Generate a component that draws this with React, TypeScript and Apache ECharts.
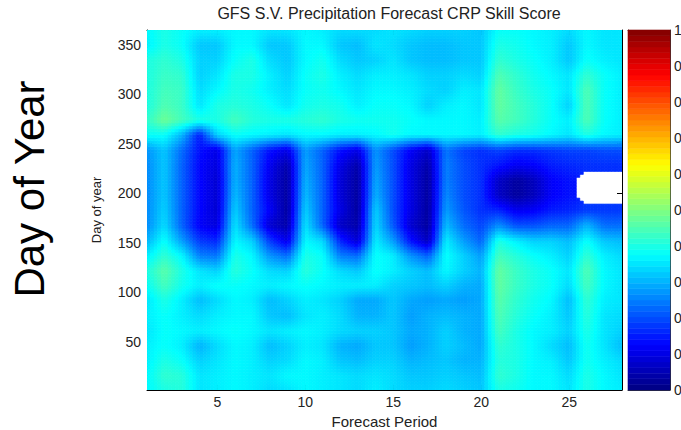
import React, { useEffect, useRef } from "react";
import * as echarts from "echarts";

const forecastPeriods = [1, 2, 3, 4, 5, 6, 7, 8, 9, 10, 11, 12, 13, 14, 15, 16, 17, 18, 19, 20, 21, 22, 23, 24, 25, 26, 27, 28];
const dayRows = [1, 16, 31, 46, 61, 76, 92, 107, 122, 137, 152, 168, 183, 198, 213, 228, 244, 259, 274, 289, 304, 320, 335, 350, 365];

// CRP skill score at grid nodes: one row per day in dayRows (bottom to top), one value per forecast period
const skillRows: (number | null)[][] = [
  [0.37, 0.40, 0.41, 0.35, 0.36, 0.37, 0.36, 0.34, 0.35, 0.37, 0.36, 0.35, 0.34, 0.36, 0.34, 0.33, 0.33, 0.34, 0.33, 0.32, 0.40, 0.39, 0.37, 0.37, 0.35, 0.40, 0.37, 0.36],
  [0.37, 0.42, 0.41, 0.35, 0.36, 0.37, 0.36, 0.35, 0.37, 0.37, 0.36, 0.35, 0.34, 0.35, 0.34, 0.32, 0.32, 0.33, 0.32, 0.31, 0.42, 0.40, 0.37, 0.37, 0.34, 0.40, 0.37, 0.35],
  [0.36, 0.40, 0.38, 0.33, 0.35, 0.37, 0.36, 0.33, 0.34, 0.37, 0.36, 0.32, 0.31, 0.33, 0.33, 0.30, 0.31, 0.32, 0.30, 0.30, 0.41, 0.40, 0.37, 0.36, 0.32, 0.39, 0.36, 0.34],
  [0.36, 0.38, 0.36, 0.30, 0.34, 0.37, 0.36, 0.31, 0.33, 0.36, 0.35, 0.30, 0.29, 0.32, 0.32, 0.28, 0.30, 0.33, 0.31, 0.29, 0.42, 0.40, 0.37, 0.34, 0.31, 0.39, 0.35, 0.31],
  [0.35, 0.38, 0.37, 0.36, 0.37, 0.38, 0.37, 0.35, 0.36, 0.37, 0.36, 0.34, 0.33, 0.33, 0.32, 0.29, 0.30, 0.33, 0.30, 0.29, 0.44, 0.40, 0.37, 0.36, 0.33, 0.40, 0.35, 0.33],
  [0.36, 0.38, 0.36, 0.34, 0.36, 0.37, 0.37, 0.32, 0.31, 0.35, 0.36, 0.34, 0.30, 0.30, 0.32, 0.28, 0.30, 0.31, 0.30, 0.29, 0.45, 0.41, 0.38, 0.36, 0.32, 0.41, 0.35, 0.34],
  [0.35, 0.40, 0.36, 0.31, 0.34, 0.37, 0.36, 0.31, 0.33, 0.36, 0.35, 0.33, 0.29, 0.29, 0.32, 0.29, 0.28, 0.29, 0.28, 0.29, 0.46, 0.42, 0.39, 0.37, 0.31, 0.42, 0.36, 0.35],
  [0.38, 0.44, 0.39, 0.36, 0.38, 0.38, 0.37, 0.36, 0.37, 0.38, 0.37, 0.36, 0.36, 0.36, 0.33, 0.32, 0.31, 0.33, 0.30, 0.29, 0.47, 0.43, 0.40, 0.38, 0.34, 0.44, 0.37, 0.35],
  [0.40, 0.46, 0.40, 0.35, 0.33, 0.41, 0.38, 0.34, 0.33, 0.41, 0.38, 0.34, 0.32, 0.38, 0.36, 0.33, 0.31, 0.37, 0.33, 0.30, 0.47, 0.43, 0.40, 0.38, 0.35, 0.45, 0.37, 0.35],
  [0.36, 0.42, 0.37, 0.25, 0.24, 0.40, 0.37, 0.27, 0.23, 0.40, 0.38, 0.25, 0.23, 0.38, 0.36, 0.27, 0.22, 0.38, 0.33, 0.28, 0.44, 0.41, 0.38, 0.36, 0.33, 0.42, 0.36, 0.34],
  [0.30, 0.38, 0.28, 0.18, 0.16, 0.37, 0.33, 0.18, 0.10, 0.37, 0.34, 0.16, 0.08, 0.36, 0.28, 0.14, 0.06, 0.36, 0.28, 0.22, 0.40, 0.36, 0.33, 0.33, 0.31, 0.38, 0.32, 0.31],
  [0.26, 0.34, 0.22, 0.12, 0.09, 0.35, 0.23, 0.08, 0.04, 0.35, 0.22, 0.07, 0.04, 0.34, 0.21, 0.08, 0.03, 0.31, 0.23, 0.19, 0.26, 0.20, 0.20, 0.22, 0.22, 0.30, 0.23, 0.23],
  [0.26, 0.33, 0.22, 0.13, 0.08, 0.33, 0.22, 0.12, 0.03, 0.33, 0.22, 0.10, 0.03, 0.33, 0.20, 0.10, 0.03, 0.28, 0.21, 0.17, 0.16, 0.11, 0.12, 0.15, 0.16, 0.18, 0.18, 0.18],
  [0.26, 0.32, 0.22, 0.13, 0.08, 0.31, 0.22, 0.10, 0.03, 0.31, 0.22, 0.09, 0.03, 0.30, 0.20, 0.10, 0.03, 0.26, 0.20, 0.17, 0.07, 0.03, 0.06, 0.12, 0.14, null, null, null],
  [0.26, 0.32, 0.22, 0.13, 0.08, 0.30, 0.22, 0.10, 0.03, 0.30, 0.22, 0.09, 0.03, 0.29, 0.20, 0.10, 0.03, 0.25, 0.20, 0.17, 0.07, 0.03, 0.06, 0.12, 0.14, null, null, null],
  [0.26, 0.32, 0.22, 0.13, 0.09, 0.30, 0.22, 0.11, 0.04, 0.29, 0.22, 0.10, 0.04, 0.28, 0.20, 0.10, 0.04, 0.25, 0.20, 0.17, 0.14, 0.11, 0.12, 0.15, 0.16, 0.17, 0.17, 0.17],
  [0.27, 0.32, 0.23, 0.14, 0.10, 0.29, 0.22, 0.14, 0.10, 0.28, 0.22, 0.14, 0.10, 0.27, 0.20, 0.12, 0.07, 0.24, 0.19, 0.17, 0.19, 0.17, 0.17, 0.18, 0.19, 0.19, 0.20, 0.20],
  [0.38, 0.38, 0.30, 0.15, 0.33, 0.38, 0.37, 0.36, 0.35, 0.37, 0.37, 0.36, 0.36, 0.37, 0.39, 0.37, 0.37, 0.37, 0.37, 0.36, 0.42, 0.40, 0.39, 0.37, 0.35, 0.40, 0.37, 0.36],
  [0.42, 0.48, 0.44, 0.40, 0.40, 0.44, 0.41, 0.40, 0.40, 0.41, 0.42, 0.40, 0.39, 0.39, 0.39, 0.38, 0.37, 0.37, 0.37, 0.36, 0.46, 0.44, 0.41, 0.38, 0.36, 0.45, 0.38, 0.36],
  [0.40, 0.45, 0.43, 0.35, 0.40, 0.41, 0.40, 0.38, 0.35, 0.39, 0.40, 0.39, 0.36, 0.38, 0.38, 0.37, 0.33, 0.36, 0.37, 0.35, 0.47, 0.44, 0.41, 0.38, 0.33, 0.45, 0.38, 0.36],
  [0.40, 0.44, 0.43, 0.34, 0.37, 0.40, 0.39, 0.36, 0.34, 0.38, 0.39, 0.37, 0.35, 0.37, 0.37, 0.36, 0.34, 0.33, 0.36, 0.35, 0.47, 0.43, 0.40, 0.38, 0.35, 0.45, 0.38, 0.36],
  [0.40, 0.43, 0.42, 0.33, 0.35, 0.40, 0.40, 0.36, 0.33, 0.38, 0.40, 0.36, 0.34, 0.36, 0.36, 0.35, 0.33, 0.33, 0.34, 0.33, 0.45, 0.42, 0.39, 0.37, 0.35, 0.42, 0.38, 0.36],
  [0.40, 0.42, 0.40, 0.33, 0.33, 0.38, 0.40, 0.34, 0.32, 0.37, 0.39, 0.34, 0.32, 0.33, 0.35, 0.32, 0.31, 0.31, 0.32, 0.32, 0.42, 0.40, 0.38, 0.36, 0.32, 0.38, 0.36, 0.35],
  [0.36, 0.40, 0.38, 0.32, 0.32, 0.37, 0.37, 0.32, 0.32, 0.37, 0.37, 0.32, 0.31, 0.35, 0.34, 0.32, 0.31, 0.31, 0.32, 0.32, 0.40, 0.39, 0.37, 0.36, 0.32, 0.37, 0.35, 0.35],
  [0.37, 0.40, 0.38, 0.36, 0.36, 0.37, 0.37, 0.35, 0.35, 0.37, 0.36, 0.34, 0.34, 0.34, 0.35, 0.34, 0.33, 0.33, 0.33, 0.32, 0.38, 0.38, 0.37, 0.36, 0.34, 0.37, 0.35, 0.35],
];

const xTicks = [5, 10, 15, 20, 25];
const yTicks = [50, 100, 150, 200, 250, 300, 350];
const colorbarTicks = [0, 0.1, 0.2, 0.3, 0.4, 0.5, 0.6, 0.7, 0.8, 0.9, 1];
const colorbarTickLabels = ["0", "0", "0", "0", "0", "0", "0", "0", "0", "0", "1"];
// jet colormap stops, evenly spaced from 0 to 1
const jetStops = [
  [0, 0, 128], [0, 0, 255], [0, 128, 255], [0, 255, 255], [128, 255, 128],
  [255, 255, 0], [255, 128, 0], [255, 0, 0], [128, 0, 0],
];
const colorbarSteps = 64;

const FONT = "'Liberation Sans', Arial, Helvetica, sans-serif";

function jet(v: number) {
  const t = Math.max(0, Math.min(1, v)) * (jetStops.length - 1);
  const i = Math.min(jetStops.length - 2, Math.floor(t));
  const f = t - i;
  const a = jetStops[i];
  const b = jetStops[i + 1];
  const c = [0, 1, 2].map((k) => Math.round(a[k] + (b[k] - a[k]) * f));
  return `rgb(${c[0]},${c[1]},${c[2]})`;
}

const SUBX = 5;
const SUBY = 5;

export default function App() {
  const ref = useRef<HTMLDivElement>(null);

  useEffect(() => {
    if (!ref.current) return;
    const chart = echarts.init(ref.current, null, { renderer: "svg" });

    // one item per quad between neighbouring grid nodes
    const quads: any[] = [];
    for (let r = 0; r < dayRows.length - 1; r++) {
      for (let c = 0; c < forecastPeriods.length - 1; c++) {
        quads.push([forecastPeriods[c], dayRows[r], r, c]);
      }
    }

    const barLevels: any[] = [];
    for (let i = 0; i < colorbarSteps; i++) {
      barLevels.push([0.5, (i + 0.5) / colorbarSteps, i]);
    }

    const quadRender = (params: any, api: any) => {
      const r = api.value(2);
      const c = api.value(3);
      const x0 = forecastPeriods[c];
      const x1 = forecastPeriods[c + 1];
      const y0 = dayRows[r];
      const y1 = dayRows[r + 1];
      const corner = [
        skillRows[r][c], skillRows[r][c + 1], skillRows[r + 1][c], skillRows[r + 1][c + 1],
      ];
      const children: any[] = [];
      for (let j = 0; j < SUBY; j++) {
        for (let i = 0; i < SUBX; i++) {
          const u = (i + 0.5) / SUBX;
          const v = (j + 0.5) / SUBY;
          const w = [(1 - u) * (1 - v), u * (1 - v), (1 - u) * v, u * v];
          let s = 0;
          let ws = 0;
          let missing = 0;
          for (let k = 0; k < 4; k++) {
            if (corner[k] !== null) {
              s += (corner[k] as number) * w[k];
              ws += w[k];
            } else {
              missing += w[k];
            }
          }
          if (missing > 0.42 || ws <= 0) continue;
          const val = s / ws;
          const pA = api.coord([x0 + (x1 - x0) * (i / SUBX), y0 + (y1 - y0) * ((j + 1) / SUBY)]);
          const pB = api.coord([x0 + (x1 - x0) * ((i + 1) / SUBX), y0 + (y1 - y0) * (j / SUBY)]);
          const col = jet(val);
          children.push({
            type: "rect",
            shape: { x: pA[0], y: pA[1], width: pB[0] - pA[0], height: pB[1] - pA[1] },
            style: { fill: col, stroke: col, lineWidth: 0.7 },
          });
        }
      }
      return { type: "group", children };
    };

    const barRender = (params: any, api: any) => {
      const i = api.value(2);
      const p0 = api.coord([0, (i + 1) / colorbarSteps]);
      const p1 = api.coord([1, i / colorbarSteps]);
      const col = jet(api.value(1));
      return {
        type: "rect",
        shape: { x: p0[0], y: p0[1], width: p1[0] - p0[0], height: p1[1] - p0[1] },
        style: { fill: col, stroke: col, lineWidth: 0.6 },
      };
    };

    const axisLine = { show: true, onZero: false, lineStyle: { color: "#000", width: 1 } };
    const tickStyle = { inside: true, length: 5, lineStyle: { color: "#000", width: 1 } };
    const barFrame = { show: true, onZero: false, lineStyle: { color: "#333", width: 1 } };

    chart.setOption({
      animation: false,
      backgroundColor: "#fff",
      textStyle: { fontFamily: FONT },
      title: {
        text: "GFS S.V. Precipitation Forecast CRP Skill Score",
        left: 384,
        textAlign: "center",
        top: 0,
        textStyle: { fontSize: 16, fontWeight: "normal", color: "#222", fontFamily: FONT },
      },
      grid: [
        { left: 147, top: 30, width: 475, height: 360, outerBoundsMode: "none", containLabel: false },
        { left: 628, top: 30, width: 42, height: 360, outerBoundsMode: "none", containLabel: false },
      ],
      xAxis: [
        {
          gridIndex: 0,
          type: "value",
          min: 1,
          max: 28,
          position: "bottom",
          name: "Forecast Period",
          nameLocation: "middle",
          nameGap: 23,
          nameTextStyle: { fontSize: 15, color: "#222", fontFamily: FONT },
          axisLine,
          axisTick: { ...tickStyle, customValues: xTicks },
          axisLabel: { customValues: xTicks, fontSize: 14, color: "#222", margin: 5, fontFamily: FONT },
          splitLine: { show: false },
        },
        {
          gridIndex: 0,
          type: "value",
          min: 1,
          max: 28,
          position: "top",
          axisLine,
          axisTick: { ...tickStyle, customValues: xTicks },
          axisLabel: { show: false },
          splitLine: { show: false },
        },
        {
          gridIndex: 1,
          type: "value",
          min: 0,
          max: 1,
          position: "bottom",
          axisLine: barFrame,
          axisTick: { show: false },
          axisLabel: { show: false },
          splitLine: { show: false },
        },
        {
          gridIndex: 1,
          type: "value",
          min: 0,
          max: 1,
          position: "top",
          axisLine: barFrame,
          axisTick: { show: false },
          axisLabel: { show: false },
          splitLine: { show: false },
        },
      ],
      yAxis: [
        {
          gridIndex: 0,
          type: "value",
          min: 1,
          max: 365,
          position: "left",
          name: "Day of year",
          nameLocation: "middle",
          nameGap: 44,
          nameTextStyle: { fontSize: 13, color: "#222", fontFamily: FONT },
          axisLine,
          axisTick: { ...tickStyle, customValues: yTicks },
          axisLabel: { customValues: yTicks, fontSize: 14, color: "#222", margin: 6, fontFamily: FONT },
          splitLine: { show: false },
        },
        {
          gridIndex: 0,
          type: "value",
          min: 1,
          max: 365,
          position: "right",
          axisLine,
          axisTick: { ...tickStyle, customValues: yTicks },
          axisLabel: { show: false },
          splitLine: { show: false },
        },
        {
          gridIndex: 1,
          type: "value",
          min: 0,
          max: 1,
          position: "right",
          axisLine: barFrame,
          axisTick: { inside: true, length: 4, customValues: colorbarTicks, lineStyle: { color: "#333" } },
          axisLabel: {
            customValues: colorbarTicks,
            fontSize: 14,
            color: "#222",
            margin: 4,
            fontFamily: FONT,
            formatter: (v: number) => {
              const k = colorbarTicks.findIndex((t) => Math.abs(t - v) < 1e-6);
              return k >= 0 ? colorbarTickLabels[k] : "";
            },
          },
          splitLine: { show: false },
        },
        {
          gridIndex: 1,
          type: "value",
          min: 0,
          max: 1,
          position: "left",
          axisLine: barFrame,
          axisTick: { inside: true, length: 4, customValues: colorbarTicks, lineStyle: { color: "#333" } },
          axisLabel: { show: false },
          splitLine: { show: false },
        },
      ],
      series: [
        {
          type: "custom",
          xAxisIndex: 0,
          yAxisIndex: 0,
          renderItem: quadRender,
          data: quads,
          encode: { x: 0, y: 1 },
          clip: true,
          z: 1,
        },
        {
          type: "custom",
          xAxisIndex: 2,
          yAxisIndex: 2,
          renderItem: barRender,
          data: barLevels,
          encode: { x: 0, y: 1 },
          z: 1,
        },
      ],
      graphic: [
        {
          type: "text",
          x: 29,
          y: 189,
          rotation: Math.PI / 2,
          style: {
            text: "Day of Year",
            fontSize: 42,
            fontFamily: FONT,
            fill: "#000",
            align: "center",
            verticalAlign: "middle",
          },
        },
      ],
    });

    return () => chart.dispose();
  }, []);

  return <div ref={ref} style={{ position: "fixed", left: 0, top: 0, width: 681, height: 430 }} />;
}
